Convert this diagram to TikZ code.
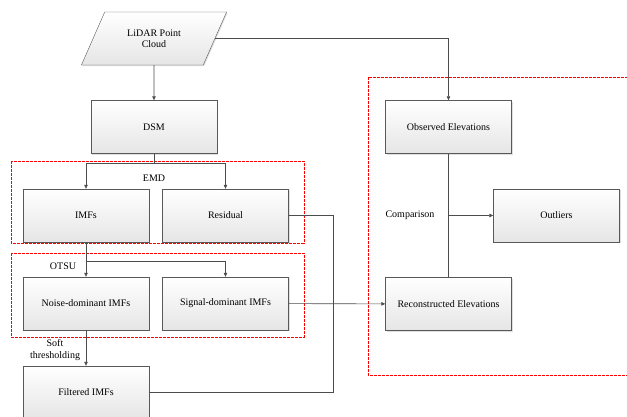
\documentclass[tikz,border=0pt]{standalone}
\usepackage{fontspec}
\setmainfont{Liberation Serif}
\usepackage{tikz}
\usetikzlibrary{shapes.geometric,shadows,arrows.meta}

\tikzset{
  box/.style={draw=black!65, top color=white, bottom color=black!10,
    minimum width=126pt, minimum height=53pt, align=center,
    drop shadow={shadow xshift=1pt, shadow yshift=-1pt, opacity=0.25}},
  flow/.style={draw=black!70, line width=0.6pt},
  arr/.style={flow, -{Triangle[length=4pt,width=3.5pt]}},
  redbox/.style={draw=red, line width=0.9pt, dash pattern=on 3pt off 1pt},
  lbl/.style={align=center, inner sep=1pt}
}

\begin{document}
\begin{tikzpicture}[x=1pt, y=-1pt, font=\fontsize{10}{11.5}\selectfont]
    \clip (0,0) rectangle (627,416);

    % dashed groups
    \draw[redbox] (11,161) rectangle (304,243);
    \draw[redbox] (11,253) rectangle (304,337);
    \draw[redbox] (368,77) rectangle (640,375);

    \node (lidar) at (154,38.5) [box, trapezium, trapezium left angle=63,
      trapezium right angle=117, trapezium stretches=true,
      minimum width=146pt, minimum height=53pt, inner xsep=0pt] {LiDAR Point\\Cloud};
    \node (dsm) at (154,127) [box] {DSM};

    \node (imfs) at (86,215.5) [box] {IMFs};
    \node (resid) at (225.5,215.5) [box] {Residual};
    \node (noise) at (86,303.5) [box] {Noise-dominant IMFs};
    \node (signal) at (225.5,303.5) [box] {Signal-dominant IMFs};
    \node (filt) at (86,392.5) [box] {Filtered IMFs};

    \node (obs) at (448.5,127) [box] {Observed Elevations};
    \node (outl) at (556.5,215.5) [box] {Outliers};
    \node (recon) at (448.5,304) [box] {Reconstructed Elevations};

    \node (emd) at (154,178) [lbl] {EMD};
    \node (otsu) at (63,266) [lbl] {OTSU};
    \node (soft) at (55,350) [lbl] {Soft\\thresholding};
    \node (cmp) at (410,215.5) [lbl] {Comparison};

    \coordinate (emdjoin) at (154,163);
    \coordinate (otsujoin) at (86,261);
    \coordinate (merge) at (333,392.5);
    \coordinate (cmpjoin) at (448.5,215.5);

    \draw[arr] (lidar) -- (dsm);
    \draw[arr] (lidar.east) -| (obs.north);

    \draw[flow] (dsm) -- (emdjoin);
    \foreach \part in {imfs,resid} {
      \draw[arr] (emdjoin) -| (\part);
    }

    \draw[arr] (imfs) -- (noise);
    \draw[arr] (otsujoin) -| (signal);
    \draw[arr] (noise) -- (filt);

    \draw[flow] (resid.east) -| (merge) -- (filt.east);
    \draw[arr] (signal) -- (recon);

    \draw[flow] (obs) -- (recon);
    \draw[arr] (cmpjoin) -- (outl);
  \end{tikzpicture}
\end{document}
